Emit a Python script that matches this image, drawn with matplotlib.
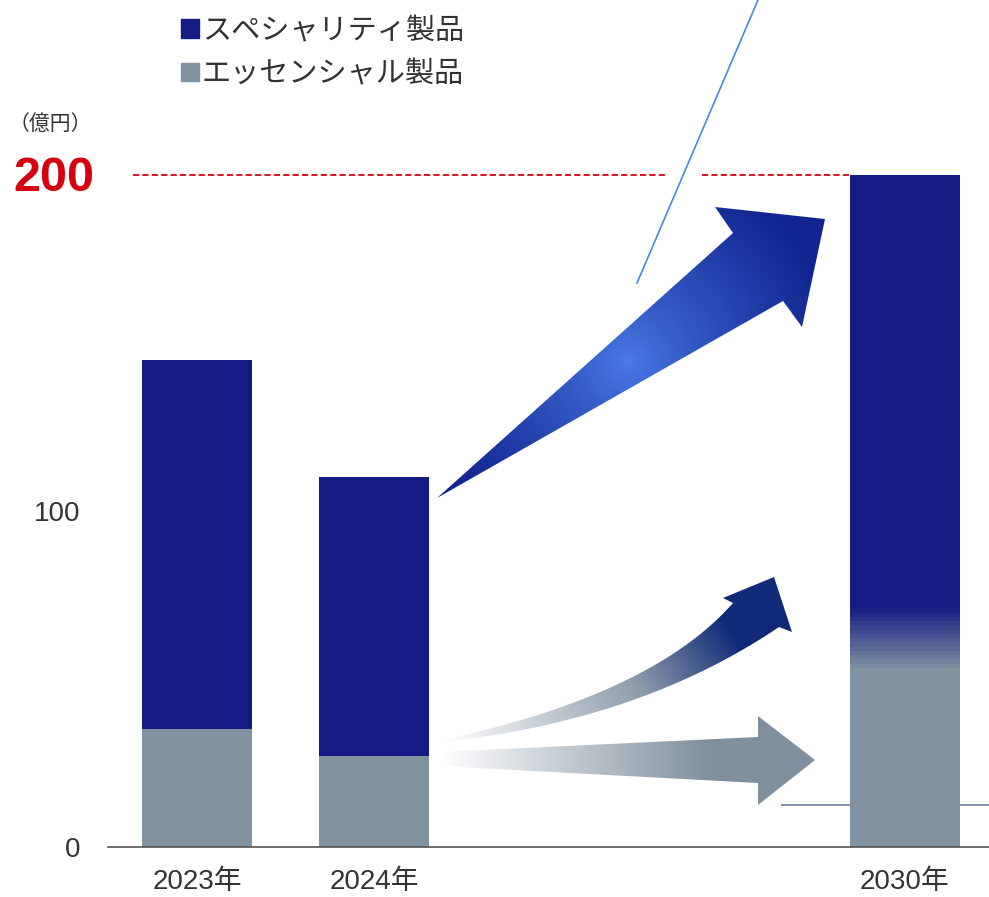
"""
Sales plan chart: specialty vs essential products, 2023 / 2024 / 2030 target
"""

import numpy as np
import matplotlib
matplotlib.use('Agg')
import matplotlib.pyplot as plt
from matplotlib.patches import Patch, Polygon
from matplotlib.colors import to_rgb

# data (億円)
years = ['2023年', '2024年', '2030年']
x_pos = [0, 1, 4]
essential = [35, 27, 62]
specialty = [110, 83, 138]
target = 200
y_ticks = [0, 100]
unit_label = '（億円）'
series_names = ['スペシャリティ製品', 'エッセンシャル製品']

NAVY = '#141b84'
GREY = '#8193a0'
RED = '#d7000f'
TEXT = '#333333'

W, H = 989, 897
fig = plt.figure(figsize=(W / 100, H / 100), dpi=100)

# main axes: x-axis line runs from px 108 to the right edge, zero at px 847
ax = fig.add_axes([108 / W, 50 / H, 881 / W, 847 / H])
ax.set_xlim(-0.503, 4.475)
ax.set_ylim(0, 847 / 3.36)
for s in ['top', 'right', 'left']:
    ax.spines[s].set_visible(False)
ax.spines['bottom'].set_color('#555555')
ax.spines['bottom'].set_linewidth(1.2)

ax.bar(x_pos, essential, width=0.62, color=GREY, zorder=2)
ax.bar(x_pos, specialty, bottom=essential, width=0.62, color=NAVY, zorder=2)

# 2030 bar: soft stepped blend between the two segments
band = 10
steps = 16
c0, c1 = np.array(to_rgb(GREY)), np.array(to_rgb(NAVY))
t = np.linspace(0, 1, steps)[:, None]
grad = (c0 * (1 - t) + c1 * t)[:, None, :]
ax.imshow(grad, extent=(x_pos[2] - 0.31, x_pos[2] + 0.31,
                        essential[2] - band, essential[2] + band),
          origin='lower', aspect='auto', interpolation='nearest', zorder=3)
ax.set_xlim(-0.503, 4.475)
ax.set_ylim(0, 847 / 3.36)

ax.set_xticks(x_pos)
ax.set_xticklabels(years, fontsize=20, color=TEXT,
                   family=['Liberation Sans', 'Noto Sans CJK JP'])
ax.tick_params(axis='x', length=0, pad=16)
ax.set_yticks(y_ticks)
ax.set_yticklabels([str(v) for v in y_ticks], fontsize=20, color=TEXT,
                   family='Liberation Sans')
ax.tick_params(axis='y', length=0, pad=20)

# target line at 200 (broken where the blue pointer line crosses)
ax.hlines(target, -0.362, 2.661, colors=RED, linewidth=1.3,
          linestyles=(0, (3.4, 1.8)), zorder=1)
ax.hlines(target, 2.853, 3.689, colors=RED, linewidth=1.3,
          linestyles=(0, (3.4, 1.8)), zorder=1)
ax.text(-0.079 - 0.503, target - 1, str(target), transform=ax.transData,
        ha='right', va='center', fontsize=35, fontweight='bold',
        color=RED, family='Liberation Sans', clip_on=False)

fig.text(9 / W, 1 - 124 / H, unit_label, fontsize=15, color=TEXT,
         family='Noto Sans CJK JP', va='center', ha='left')

fig.legend(handles=[Patch(color=NAVY, label=series_names[0]),
                    Patch(color=GREY, label=series_names[1])],
           loc='upper left', bbox_to_anchor=(181 / W, 1 - 16 / H),
           frameon=False, borderpad=0, borderaxespad=0,
           handlelength=0.6, handleheight=0.6, handletextpad=0.12,
           labelspacing=0.45,
           prop={'family': 'Noto Sans CJK JP', 'size': 21},
           labelcolor=TEXT)

# overlay in pixel coordinates for the decorative arrows
ov = fig.add_axes([0, 0, 1, 1], zorder=5)
ov.set_xlim(0, W)
ov.set_ylim(H, 0)
ov.axis('off')
ov.patch.set_alpha(0)


def gradient_fill(verts, colour_fn):
    verts = np.asarray(verts, float)
    x0, y0 = verts.min(axis=0) - 1
    x1, y1 = verts.max(axis=0) + 1
    xs = np.arange(x0, x1 + 1)
    ys = np.arange(y0, y1 + 1)
    gx, gy = np.meshgrid(xs, ys)
    img = colour_fn(gx, gy)
    poly = Polygon(verts, closed=True, facecolor='none', edgecolor='none')
    ov.add_patch(poly)
    im = ov.imshow(img, extent=(x0, x1, y1, y0), origin='upper',
                   aspect='auto', interpolation='bilinear')
    im.set_clip_path(poly)


def mix(c_a, c_b, t):
    a, b = np.array(to_rgb(c_a)), np.array(to_rgb(c_b))
    t = np.clip(t, 0, 1)[..., None]
    return a * (1 - t) + b * t


# big blue arrow (specialty growth)
big = [(437, 498), (733, 233), (715, 207), (825, 219),
       (802, 327), (783, 301)]
gradient_fill(big, lambda gx, gy: mix(
    '#4a7ce8', '#11248f', (np.hypot(gx - 628, gy - 362) / 210) ** 0.8))

# curved arrow (grey to navy)
def quad(p0, p1, p2, n=40):
    s = np.linspace(0, 1, n)[:, None]
    p0, p1, p2 = map(np.array, (p0, p1, p2))
    return (1 - s) ** 2 * p0 + 2 * (1 - s) * s * p1 + s ** 2 * p2

top_edge = quad((442, 740), (652, 695), (733, 603))
bot_edge = quad((779, 627), (640, 721), (442, 742))
curved = np.vstack([top_edge, [(723, 598), (774, 577), (792, 632)], bot_edge])


def curved_colour(gx, gy):
    d = ((gx - 442) * 0.85 - (gy - 740) * 0.55)
    t = d / 360
    low = mix('#ffffff', '#8c9aaa', t / 0.55)
    high = mix('#8c9aaa', '#102a78', (t - 0.55) / 0.3)
    return np.where((t < 0.55)[..., None], low, high)


gradient_fill(curved, curved_colour)

# straight arrow (essential, flat)
straight = [(440, 752), (758, 737), (758, 716), (815, 760),
            (758, 805), (758, 783), (440, 766)]
gradient_fill(straight, lambda gx, gy: mix('#ffffff', '#7f909e',
                                           (gx - 440) / 270))

# pointer line and small base line
ov.plot([637, 758], [283, 0], color='#4a86e8', linewidth=1.2)
ov.plot([782, 989], [805, 805], color='#8090a8', linewidth=1.4)

ov.set_xlim(0, W)
ov.set_ylim(H, 0)

fig.savefig('out.png', dpi=100)
